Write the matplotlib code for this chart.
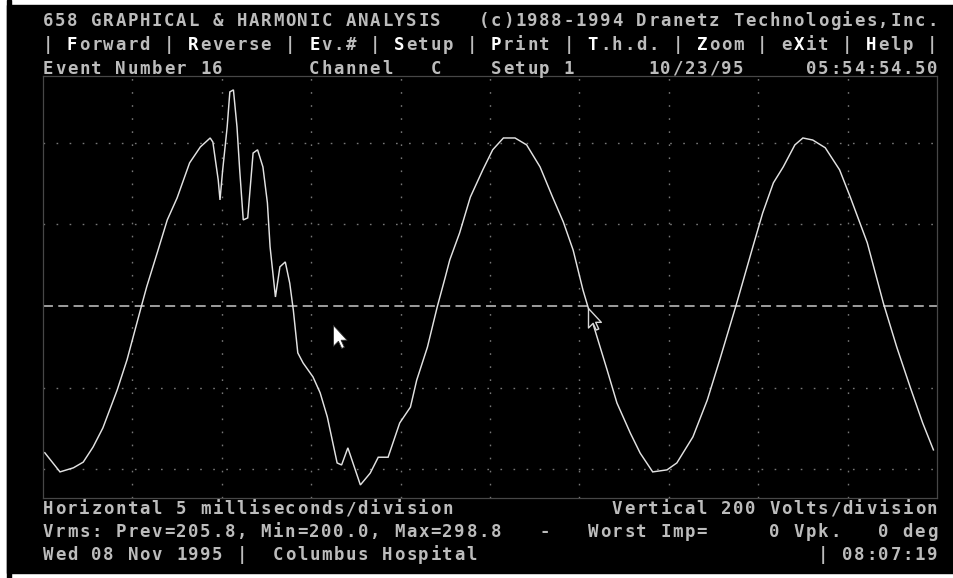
import matplotlib.pyplot as plt
from matplotlib.patches import Rectangle
from matplotlib.path import Path

# channel C trace, event 16 -- time in ms, level in volts
t_ms = [0.1, 0.95, 1.7, 2.25, 2.8, 3.35, 4.15, 4.7, 5.25, 5.55,
        5.8, 6.4, 6.95, 7.5, 8.2, 8.8, 9.35, 9.5, 9.8, 9.9,
        10.05, 10.3, 10.45, 10.65, 10.85, 11.0, 11.2, 11.45, 11.75, 12.0,
        12.3, 12.55, 12.7, 13.0, 13.25, 13.55, 13.8, 14.0, 14.25, 14.55,
        15.1, 15.5, 15.9, 16.45, 16.7, 17.05, 17.75, 18.3, 18.75, 19.3,
        19.95, 20.55, 20.9, 21.5, 22.05, 22.5, 22.75, 23.3, 23.9, 24.6,
        25.15, 25.75, 26.4, 27.05, 27.8, 28.5, 29.1, 29.65, 30.2, 30.45,
        30.75, 31.55, 32.1, 32.85, 33.4, 34.1, 34.9, 35.45, 36.35, 37.15,
        37.85, 38.8, 39.7, 40.25, 40.85, 41.4, 42.05, 42.5, 43.05, 43.75,
        44.55, 45.15, 46.1, 47.0, 47.75, 48.5, 49.2, 49.8]
volts = [-360, -407, -397, -383, -346, -299, -206, -132, -42, 7,
         47, 132, 211, 265, 351, 390, 412, 402, 309, 260,
         334, 439, 525, 530, 439, 334, 211, 216, 375, 383,
         341, 253, 145, 22, 96, 108, 56, -10, -115, -140,
         -174, -213, -272, -385, -390, -348, -439, -410, -371, -371,
         -287, -248, -182, -101, -2, 71, 113, 179, 267, 334,
         383, 412, 412, 395, 341, 267, 206, 137, 39, 2,
         -42, -157, -238, -312, -361, -407, -402, -385, -321, -231,
         -132, 7, 145, 228, 302, 341, 395, 412, 407, 388,
         334, 267, 155, 7, -101, -199, -287, -353]

ms_per_div = 5
volts_per_div = 200

# mouse pointers left on the screen (ms, volts)
pointer_solid = (16.2, -47)
pointer_open = (30.5, -5)

# screen text
title_left = "658 GRAPHICAL & HARMONIC ANALYSIS"
title_right = "(c)1988-1994 Dranetz Technologies,Inc."
menu_items = ["Forward", "Reverse", "Ev.#", "Setup", "Print", "T.h.d.", "Zoom", "eXit", "Help"]
event_txt = "Event Number 16"
channel_txt = "Channel   C"
setup_txt = "Setup 1"
date_txt = "10/23/95"
time_txt = "05:54:54.50"
horiz_txt = "Horizontal 5 milliseconds/division"
vert_txt = "Vertical 200 Volts/division"
vrms_txt = "Vrms: Prev=205.8, Min=200.0, Max=298.8"
imp_txt = "-   Worst Imp="
vpk_txt = "0 Vpk."
deg_txt = "0 deg"
site_txt = "Wed 08 Nov 1995 |  Columbus Hospital"
clock_txt = "| 08:07:19"

W, H = 954, 578
fig = plt.figure(figsize=(W / 100, H / 100), dpi=100, facecolor='white')

# black screen area inside the white paper edge
fig.patches.append(Rectangle((7 / W, 5 / H), 1 - 7 / W, 568 / H,
                             transform=fig.transFigure, color='black', zorder=-2))
fig.patches.append(Rectangle((7 / W, 0), 4 / W, 1,
                             transform=fig.transFigure, color='black', zorder=-2))

ax = fig.add_axes([43 / W, (H - 498) / H, 894 / W, 422 / H])
ax.set_facecolor('black')
ax.set_xlim(0, 10 * ms_per_div)
ax.set_ylim(-471, 564)
for s in ax.spines.values():
    s.set_color('#474747')
    s.set_linewidth(0.9)
ax.set_xticks([])
ax.set_yticks([])

# dotted division grid
for k in range(1, 10):
    ax.axvline(k * ms_per_div, color='#777777', lw=1.0, dashes=(1.2, 8.2))
for k in (-2, -1, 1, 2):
    ax.axhline(k * volts_per_div, color='#777777', lw=1.0, dashes=(1.2, 8.2))
ax.axhline(0, color='#c8c8c8', lw=1.1, dashes=(6.5, 3.5))

ax.plot(t_ms, volts, color='#e2e2e2', lw=1.05, solid_joinstyle='miter')

# arrow pointers
arrow = Path([(0, 0), (0, -19), (4.5, -14.5), (7.5, -21), (10, -20), (7, -13.5), (12.5, -13.5), (0, 0)],
             [Path.MOVETO] + [Path.LINETO] * 6 + [Path.CLOSEPOLY])
ax.plot(*pointer_solid, marker=arrow, ms=33, color='white', mec='#303030', mew=0.6, zorder=5)
ax.plot(*pointer_open, marker=arrow, ms=31, color='black', mec='#d8d8d8', mew=1.0, zorder=5)

# 80-column text screen
COL_W = 12.11
COL_X0 = 5.6
DIM = '#bcbcbc'
BRIGHT = '#ffffff'


def put(row_y, col, s, hot=()):
    for i, ch in enumerate(s):
        if ch == ' ':
            continue
        x = COL_X0 + (col + i + 0.5) * COL_W
        fig.text(x / W, 1 - row_y / H, ch, ha='center', va='center',
                 family='DejaVu Sans Mono', weight='bold', fontsize=12.5,
                 color=BRIGHT if i in hot else DIM)


put(21, 3, title_left)
put(21, 39, title_right)

menu = "|"
hot = []
for item in menu_items:
    menu += " "
    hot.append(len(menu) + next(j for j, c in enumerate(item) if c.isupper()))
    menu += item + " |"
put(44.5, 3, menu, hot)

put(68.5, 3, event_txt)
put(68.5, 25, channel_txt)
put(68.5, 40, setup_txt)
put(68.5, 53, date_txt)
put(68.5, 66, time_txt)

put(509, 3, horiz_txt)
put(509, 50, vert_txt)
put(532, 3, vrms_txt)
put(532, 44, imp_txt)
put(532, 63, vpk_txt)
put(532, 72, deg_txt)
put(555.5, 3, site_txt)
put(555.5, 67, clock_txt)

plt.savefig('out.png', dpi=100, facecolor=fig.get_facecolor())
